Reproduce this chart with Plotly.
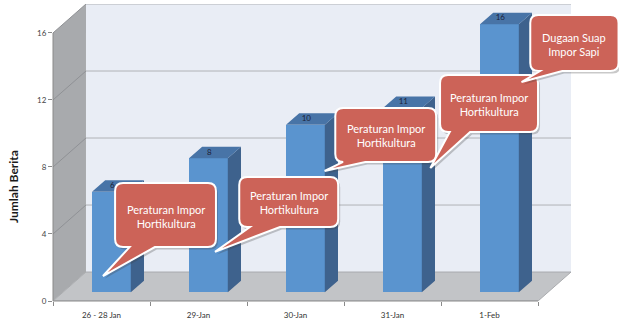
import plotly.graph_objects as go

# ---- data -------------------------------------------------------------
categories = ["26 - 28 Jan", "29-Jan", "30-Jan", "31-Jan", "1-Feb"]
news_counts = [6, 8, 10, 11, 16]
y_ticks = [0, 4, 8, 12, 16]
callout_texts = [
    "Peraturan Impor<br>Hortikultura",
    "Peraturan Impor<br>Hortikultura",
    "Peraturan Impor<br>Hortikultura",
    "Peraturan Impor<br>Hortikultura",
    "Dugaan Suap<br>Impor Sapi",
]

# ---- geometry of the pseudo 3-D box ------------------------------------
W_PX, H_PX = 619, 324
M_L, M_R, M_T, M_B = 53, 48, 4, 23
PLOT_W = W_PX - M_L - M_R
PLOT_H = H_PX - M_T - M_B

DX, DY = 0.34, 1.73            # receding depth, in axis units
Y_TOP = 16
X_MIN, X_MAX = -0.5, len(categories) - 0.5 + DX
Y_MAX = Y_TOP + DY

BAR_W = 0.40
F0, F1 = 0.30, 0.70            # bars occupy this slice of the depth

# colours
BACK_WALL = "#e9edf5"
SIDE_WALL = "#a8aaad"
FLOOR = "#c2c4c7"
GRID_BACK = "#b0b2b6"
GRID_SIDE = "#8f9195"
AXIS = "#8a8a8a"
BAR_FRONT = "#5a94cf"
BAR_SIDE = "#3e628d"
BAR_TOP = "#4874a7"
CALLOUT = "#cc6358"

fig = go.Figure()

# front faces of the bars
front_c = [i + F0 * DX for i in range(len(categories))]
fig.add_trace(go.Bar(
    x=front_c, y=news_counts, base=F0 * DY, width=BAR_W,
    marker=dict(color=BAR_FRONT, line=dict(width=0)),
    hoverinfo="skip", showlegend=False,
))

# side and top faces
dd = (F1 - F0) * DX
side_x, side_y, top_x, top_y = [], [], [], []
for c, v in zip(front_c, news_counts):
    x0, x1 = c - BAR_W / 2, c + BAR_W / 2
    side_x += [x1, x1 + dd, x1 + dd, x1, x1, None]
    side_y += [F0 * DY, F1 * DY, v + F1 * DY, v + F0 * DY, F0 * DY, None]
    top_x += [x0, x1, x1 + dd, x0 + dd, x0, None]
    top_y += [v + F0 * DY, v + F0 * DY, v + F1 * DY, v + F1 * DY, v + F0 * DY, None]

for xs, ys, col in ((side_x, side_y, BAR_SIDE), (top_x, top_y, BAR_TOP)):
    fig.add_trace(go.Scatter(
        x=xs, y=ys, mode="lines", fill="toself", fillcolor=col,
        line=dict(width=0, color=col), hoverinfo="skip", showlegend=False,
    ))

# value labels on the bar tops
fig.add_trace(go.Scatter(
    x=[c + 0.01 for c in front_c],
    y=[v + 0.5 * (F0 + F1) * DY for v in news_counts],
    mode="text", text=[str(v) for v in news_counts],
    textfont=dict(family="Lato", size=8, color="#1c2238"),
    hoverinfo="skip", showlegend=False, cliponaxis=False,
))

shapes = []


def poly(points):
    return "M " + " L ".join(f"{x:.5f},{y:.5f}" for x, y in points) + " Z"


# back wall, side wall and floor
shapes.append(dict(type="rect", xref="x", yref="y", layer="below",
                   x0=X_MIN + DX, x1=X_MAX, y0=DY, y1=Y_MAX,
                   fillcolor=BACK_WALL, line=dict(width=0)))
shapes.append(dict(type="path", xref="x", yref="y", layer="below",
                   path=poly([(X_MIN, 0), (X_MIN, Y_TOP), (X_MIN + DX, Y_MAX), (X_MIN + DX, DY)]),
                   fillcolor=SIDE_WALL, line=dict(width=0)))
shapes.append(dict(type="path", xref="x", yref="y", layer="below",
                   path=poly([(X_MIN, 0), (X_MAX - DX, 0), (X_MAX, DY), (X_MIN + DX, DY)]),
                   fillcolor=FLOOR, line=dict(width=1, color="#a9abae")))

# gridlines on the walls
for t in y_ticks[1:]:
    shapes.append(dict(type="line", xref="x", yref="y", layer="below",
                       x0=X_MIN, y0=t, x1=X_MIN + DX, y1=t + DY,
                       line=dict(color=GRID_SIDE, width=1)))
    shapes.append(dict(type="line", xref="x", yref="y", layer="below",
                       x0=X_MIN + DX, y0=t + DY, x1=X_MAX, y1=t + DY,
                       line=dict(color=GRID_BACK, width=1)))

# axis lines
shapes.append(dict(type="line", xref="paper", yref="y", layer="above",
                   x0=0, x1=0, y0=0, y1=Y_TOP, line=dict(color=AXIS, width=1)))
shapes.append(dict(type="line", xref="x", yref="paper", layer="above",
                   x0=X_MIN, x1=X_MAX - DX, y0=0, y1=0, line=dict(color=AXIS, width=1)))


# ---- speech-bubble callouts --------------------------------------------
def to_paper(x, y):
    return (x - X_MIN) / (X_MAX - X_MIN), y / Y_MAX


def bubble_path(box, base, tip, r=8, ox=0.0, oy=0.0):
    (bx0, by0), (bx1, by1) = to_paper(box[0], box[1]), to_paper(box[2], box[3])
    L, R = bx0 + ox, bx1 + ox
    B, T = by0 + oy, by1 + oy
    s0 = to_paper(base[0], 0)[0] + ox
    s1 = to_paper(base[1], 0)[0] + ox
    tx, ty = to_paper(*tip)
    tx, ty = tx + ox, ty + oy
    rx, ry = r / PLOT_W, r / PLOT_H
    f = lambda x, y: f"{x:.5f},{y:.5f}"
    return (
        f"M {f(L + rx, T)} L {f(R - rx, T)} Q {f(R, T)} {f(R, T - ry)} "
        f"L {f(R, B + ry)} Q {f(R, B)} {f(R - rx, B)} "
        f"L {f(s1, B)} L {f(tx, ty)} L {f(s0, B)} "
        f"L {f(L + rx, B)} Q {f(L, B)} {f(L, B + ry)} "
        f"L {f(L, T - ry)} Q {f(L, T)} {f(L + rx, T)} Z"
    )


# (box x0, y0, x1, y1), tail base (x0, x1) on the box bottom, tail tip (x, y)
bubbles = [
    ((0.14, 3.22, 1.18, 7.04), (0.29, 0.55), (0.015, 1.49)),
    ((1.42, 4.42, 2.44, 7.40), (1.53, 1.84), (1.17, 2.93)),
    ((2.41, 8.30, 3.45, 11.52), (2.49, 2.72), (2.30, 7.76)),
    ((3.49, 10.09, 4.50, 13.49), (3.59, 3.80), (3.39, 7.94)),
    ((4.42, 13.73, 5.33, 17.07), (4.52, 4.75), (4.33, 13.07)),
]

annotations = []
for (box, base, tip), txt in zip(bubbles, callout_texts):
    shapes.append(dict(type="path", xref="paper", yref="paper", layer="above",
                       path=bubble_path(box, base, tip, ox=2 / PLOT_W, oy=-2.5 / PLOT_H),
                       fillcolor="rgba(60,60,60,0.28)", line=dict(width=0)))
    shapes.append(dict(type="path", xref="paper", yref="paper", layer="above",
                       path=bubble_path(box, base, tip),
                       fillcolor=CALLOUT, line=dict(color="white", width=2)))
    cx, cy = to_paper((box[0] + box[2]) / 2, (box[1] + box[3]) / 2)
    annotations.append(dict(xref="paper", yref="paper", x=cx, y=cy - 1 / PLOT_H,
                            xanchor="center", yanchor="middle",
                            text=txt, showarrow=False, align="center",
                            font=dict(family="Lato", size=11, color="white")))

annotations.append(dict(xref="paper", yref="paper", x=(13 - M_L) / PLOT_W,
                        y=(301 - 187) / PLOT_H, xanchor="center", yanchor="middle",
                        text="<b>Jumlah Berita</b>",
                        textangle=-90, showarrow=False,
                        font=dict(family="Lato", size=12, color="#1a1a1a")))

fig.update_layout(
    width=W_PX, height=H_PX,
    margin=dict(l=M_L, r=M_R, t=M_T, b=M_B, pad=0),
    paper_bgcolor="white", plot_bgcolor="white",
    showlegend=False, bargap=0,
    shapes=shapes, annotations=annotations,
    xaxis=dict(
        range=[X_MIN, X_MAX], tickvals=list(range(len(categories))), ticktext=categories,
        ticks="", showgrid=False, zeroline=False, showline=False,
        ticklabelstandoff=8,
        tickfont=dict(family="Lato", size=8, color="#333333"),
        minor=dict(tickvals=[i - 0.5 for i in range(len(categories) + 1)],
                   ticks="outside", ticklen=4, tickcolor=AXIS, showgrid=False),
        fixedrange=True,
    ),
    yaxis=dict(
        range=[0, Y_MAX], tickvals=y_ticks, ticks="outside", ticklen=4, tickcolor=AXIS,
        showgrid=False, zeroline=False, showline=False,
        tickfont=dict(family="Lato", size=8, color="#444444"),
        fixedrange=True,
    ),
)

fig.write_html("out.html")
